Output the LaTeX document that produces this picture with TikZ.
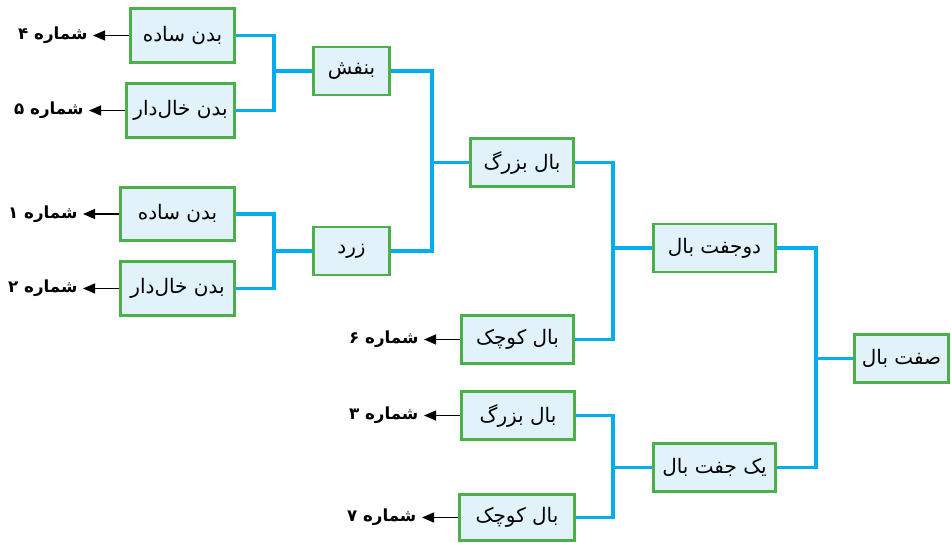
\documentclass[tikz,border=0pt]{standalone}
\usepackage{fontspec}
\usepackage{xcolor}
\usepackage{tikz}
\usetikzlibrary{arrows.meta,positioning}
\newfontfamily\farsifont[Script=Arabic]{DejaVu Sans}
\TeXXeTstate=1
\definecolor{boxgreen}{RGB}{77,175,74}
\definecolor{boxfill}{RGB}{225,242,250}
\definecolor{linkblue}{RGB}{0,174,239}

\begin{document}
\begin{tikzpicture}[x=0.75pt, y=-0.75pt, >=Stealth,
  font=\farsifont\fontsize{15}{18}\selectfont,
  box/.style={draw=boxgreen, line width=2.2pt, fill=boxfill,
    inner sep=2pt, minimum height=36pt},
  tall/.style={minimum height=40pt},
  link/.style={linkblue, line width=2.3pt},
  pointer/.style={-{Triangle[length=9pt, width=7.5pt]}, line width=1pt},
  numlabel/.style={inner xsep=4pt, inner ysep=1pt,
    font=\farsifont\bfseries\fontsize{12.5}{15}\selectfont}]

\useasboundingbox (0,0) rectangle (951,543);

% =========================================================
% LEFT: body pattern (column 1) and colour (column 2)
% =========================================================
\node[box, tall, minimum width=78pt]   (a1) at (182.5, 35.5) {\beginR بدن ساده\endR};
\node[box, tall, minimum width=81pt]   (a2) at (180.5,110.5) {\beginR بدن خال‌دار\endR};
\node[box, tall, minimum width=85.5pt] (b1) at (177.5,214)   {\beginR بدن ساده\endR};
\node[box, tall, minimum width=85.5pt] (b2) at (177.5,288.5) {\beginR بدن خال‌دار\endR};

\node[box, minimum width=57pt] (banafsh) at (351.5, 71) {\beginR بنفش\endR};
\node[box, minimum width=57pt] (zard)    at (351.5,251) {\beginR زرد\endR};

% =========================================================
% MIDDLE: wing size
% =========================================================
\node[box, minimum width=77.3pt] (bozorg1) at (522,162.5)   {\beginR بال بزرگ\endR};
\node[box, minimum width=84pt]   (kuchak1) at (517.5,339.5) {\beginR بال کوچک\endR};
\node[box, minimum width=84.8pt] (bozorg2) at (518,415.5)   {\beginR بال بزرگ\endR};
\node[box, minimum width=86.3pt, minimum height=34.5pt]
  (kuchak2) at (517,517.5) {\beginR بال کوچک\endR};

% =========================================================
% RIGHT: number of wing pairs, then the root
% =========================================================
\node[box, minimum width=91.5pt] (dojoft)  at (714.5,248)   {\beginR دوجفت بال\endR};
\node[box, minimum width=91.5pt] (yekjoft) at (714.5,467.5) {\beginR یک جفت بال\endR};
\node[box, minimum width=70.5pt] (sefat)   at (901.5,358.5) {\beginR صفت بال\endR};

% Junction points of the brackets
\coordinate (j1) at (274, 71);
\coordinate (j2) at (274,251);
\coordinate (j3) at (432,162.5);
\coordinate (j4) at (613,248);
\coordinate (j5) at (613,467.5);
\coordinate (j6) at (816,358.5);

% Brackets
\draw[link] (a1.east) -| (j1) |- (a2.east);
\draw[link] (j1) -- (banafsh.west);
\draw[link] (b1.east) -| (j2) |- (b2.east);
\draw[link] (j2) -- (zard.west);
\draw[link] (banafsh.east) -| (j3) |- (zard.east);
\draw[link] (j3) -- (bozorg1.west);
\draw[link] (bozorg1.east) -| (j4) |- (kuchak1.east);
\draw[link] (j4) -- (dojoft.west);
\draw[link] (bozorg2.east) -| (j5) |- (kuchak2.east);
\draw[link] (j5) -- (yekjoft.west);
\draw[link] (dojoft.east) -| (j6) |- (yekjoft.east);
\draw[link] (j6) -- (sefat.west);

% Specimen numbers
\foreach \n/\digit in {a1/۴, a2/۵, b1/۱, b2/۲, kuchak1/۶, bozorg2/۳, kuchak2/۷}{
  \node[numlabel, left=27pt of \n] (l\n) {\beginR شماره \digit\endR};
  \draw[pointer] (\n.west) -- (l\n.east);
}

\end{tikzpicture}
\end{document}
